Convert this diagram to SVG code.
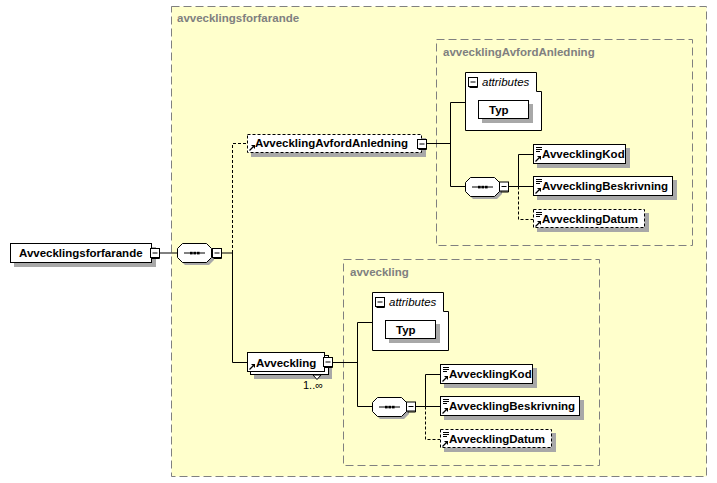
<svg xmlns="http://www.w3.org/2000/svg" xmlns:xlink="http://www.w3.org/1999/xlink" width="717" height="483" viewBox="0 0 717 483">
<defs>
<style>
.box{fill:#fff;stroke:#000;stroke-width:1}
.opt{stroke-dasharray:3,2}
.sh{fill:#a8a8a8}
.lbl{font-family:"Liberation Sans",Arial,sans-serif;font-size:11.5px;font-weight:bold;fill:#000}
.reg{font-family:"Liberation Sans",Arial,sans-serif;font-size:11px;fill:#000}
.it{font-family:"Liberation Sans",Arial,sans-serif;font-size:11.5px;font-style:italic;fill:#000}
.grp{fill:#ffffcc;stroke:#808080;stroke-width:1;stroke-dasharray:8,4}
.glbl{font-family:"Liberation Sans",Arial,sans-serif;font-size:11.5px;font-weight:bold;fill:#808080}
.ln{fill:none;stroke:#000;stroke-width:1}
.dln{fill:none;stroke:#000;stroke-width:1;stroke-dasharray:3,2}
</style>
<g id="minus">
<rect x="0.5" y="0.5" width="9" height="9" fill="#fff" stroke="#000"/>
<path d="M9.5 1.5V10.5H1.5" fill="none" stroke="#000"/>
<path d="M2.5 5H7.5" stroke="#000"/>
</g>
<g id="seq">
<polygon points="8,3 32,3 37,8 37,17 32,22 8,22 3,17 3,8" fill="#a8a8a8"/>
<polygon points="5.5,0.5 29.5,0.5 34.5,5.5 34.5,14.5 29.5,19.5 5.5,19.5 0.5,14.5 0.5,5.5" fill="#fff" stroke="#000"/>
<path d="M7 10H28" stroke="#000"/>
<rect x="13" y="8.8" width="2.6" height="2.6" fill="#000"/>
<rect x="16.5" y="8.8" width="2.6" height="2.6" fill="#000"/>
<rect x="20" y="8.8" width="2.6" height="2.6" fill="#000"/>
</g>
<g id="ico-lines">
<path d="M0 0.5H6M0 2.5H6M0 4.5H4" stroke="#000" stroke-width="1"/>
</g>
<g id="ico-ref">
<path d="M0.5 5.5L4 2" stroke="#000" stroke-width="1.3"/>
<polygon points="2,0 6,0 6,4" fill="#000"/>
</g>
</defs>

<!-- group backgrounds -->
<g id="grp-avvecklingsforfarande">
<rect class="grp" x="171.5" y="6.5" width="535" height="470"/>
<text class="glbl" x="177" y="22">avvecklingsforfarande</text>
</g>
<g id="grp-avvecklingAvfordAnledning">
<rect class="grp" x="436.5" y="39.5" width="256" height="206"/>
<text class="glbl" x="443" y="56">avvecklingAvfordAnledning</text>
</g>
<g id="grp-avveckling">
<rect class="grp" x="343.5" y="259.5" width="256" height="206"/>
<text class="glbl" x="350" y="276">avveckling</text>
</g>

<!-- connectors -->
<g id="connectors">
<path class="ln" d="M160 253H177"/>
<path class="ln" d="M222 253H232.5"/>
<path class="dln" d="M232.5 253V143.5H247"/>
<path class="ln" d="M232.5 253V362.5H247"/>
<path class="ln" d="M427 143.5H450.5"/>
<path class="ln" d="M333 362.5H357.5"/>
<g id="conn-avveckling">
<path class="ln" d="M372 322.5H357.5V406.5H372"/>
<path class="ln" d="M416 406.5H425.5"/>
<path class="ln" d="M440 374.5H425.5V406.5H440"/>
<path class="dln" d="M425.5 406.5V439.5H440"/>
</g>
<g id="conn-anledning" transform="translate(93,-220)">
<path class="ln" d="M372 322.5H357.5V406.5H372"/>
<path class="ln" d="M416 406.5H425.5"/>
<path class="ln" d="M440 374.5H425.5V406.5H440"/>
<path class="dln" d="M425.5 406.5V439.5H440"/>
</g>
</g>

<!-- root -->
<g id="node-Avvecklingsforfarande">
<rect class="sh" x="14" y="247" width="142" height="20"/>
<rect class="box" x="10.5" y="243.5" width="141" height="19"/>
<text class="lbl" x="19" y="257">Avvecklingsforfarande</text>
<use xlink:href="#minus" x="150" y="248"/>
</g>
<g id="node-seq-root">
<use xlink:href="#seq" x="177" y="243"/>
<use xlink:href="#minus" x="212" y="248"/>
</g>

<!-- AvvecklingAvfordAnledning -->
<g id="node-AvvecklingAvfordAnledning">
<rect class="sh" x="251" y="138" width="175" height="19"/>
<rect class="box opt" x="247.5" y="134.5" width="174" height="18"/>
<text class="lbl" x="255" y="147">AvvecklingAvfordAnledning</text>
<use xlink:href="#ico-ref" x="249" y="145"/>
<use xlink:href="#minus" x="417" y="139"/>
</g>

<!-- Avveckling -->
<g id="node-Avveckling">
<rect class="sh" x="254" y="359" width="78" height="20"/>
<rect class="box" x="250.5" y="355.5" width="78" height="19"/>
<rect class="box" x="247.5" y="352.5" width="77" height="19"/>
<polygon points="313,375 317,379.5 321,375" fill="#fff" stroke="#000"/>
<text class="lbl" x="256" y="367">Avveckling</text>
<use xlink:href="#ico-ref" x="249" y="364"/>
<use xlink:href="#minus" x="323" y="357"/>
<text class="reg" x="303" y="389">1..∞</text>
</g>

<!-- bottom type content -->
<g id="avveckling-content">
<g id="attr-avveckling">
<polygon class="box" points="372.5,292.5 443.5,292.5 443.5,311.5 448.5,311.5 448.5,350.5 372.5,350.5"/>
<use xlink:href="#minus" x="375" y="297"/>
<text class="it" x="389" y="306">attributes</text>
</g>
<g id="attr-avveckling-Typ">
<rect class="sh" x="389" y="324" width="51" height="19"/>
<rect class="box" x="385.5" y="320.5" width="50" height="18"/>
<text class="lbl" x="396" y="334">Typ</text>
</g>
<g id="seq-avveckling">
<use xlink:href="#seq" x="372" y="397"/>
<use xlink:href="#minus" x="406" y="401.5"/>
</g>
<g id="avveckling-AvvecklingKod">
<rect class="sh" x="444" y="368" width="93" height="20"/>
<rect class="box" x="440.5" y="364.5" width="92" height="19"/>
<use xlink:href="#ico-lines" x="443" y="367"/>
<use xlink:href="#ico-ref" x="442" y="376"/>
<text class="lbl" x="449" y="378">AvvecklingKod</text>
</g>
<g id="avveckling-AvvecklingBeskrivning">
<rect class="sh" x="444" y="400" width="140" height="20"/>
<rect class="box" x="440.5" y="396.5" width="139" height="19"/>
<use xlink:href="#ico-lines" x="443" y="399"/>
<use xlink:href="#ico-ref" x="442" y="408"/>
<text class="lbl" x="449" y="410">AvvecklingBeskrivning</text>
</g>
<g id="avveckling-AvvecklingDatum">
<rect class="sh" x="444" y="433" width="112" height="19"/>
<rect class="box opt" x="440.5" y="429.5" width="111" height="18"/>
<use xlink:href="#ico-lines" x="443" y="432"/>
<use xlink:href="#ico-ref" x="442" y="441"/>
<text class="lbl" x="449" y="443">AvvecklingDatum</text>
</g>
</g>

<!-- top type content -->
<g id="anledning-content" transform="translate(93,-220)">
<g id="attr-anledning">
<polygon class="box" points="372.5,292.5 443.5,292.5 443.5,311.5 448.5,311.5 448.5,350.5 372.5,350.5"/>
<use xlink:href="#minus" x="375" y="297"/>
<text class="it" x="389" y="306">attributes</text>
</g>
<g id="attr-anledning-Typ">
<rect class="sh" x="389" y="324" width="51" height="19"/>
<rect class="box" x="385.5" y="320.5" width="50" height="18"/>
<text class="lbl" x="396" y="334">Typ</text>
</g>
<g id="seq-anledning">
<use xlink:href="#seq" x="372" y="397"/>
<use xlink:href="#minus" x="406" y="401.5"/>
</g>
<g id="anledning-AvvecklingKod">
<rect class="sh" x="444" y="368" width="93" height="20"/>
<rect class="box" x="440.5" y="364.5" width="92" height="19"/>
<use xlink:href="#ico-lines" x="443" y="367"/>
<use xlink:href="#ico-ref" x="442" y="376"/>
<text class="lbl" x="449" y="378">AvvecklingKod</text>
</g>
<g id="anledning-AvvecklingBeskrivning">
<rect class="sh" x="444" y="400" width="140" height="20"/>
<rect class="box" x="440.5" y="396.5" width="139" height="19"/>
<use xlink:href="#ico-lines" x="443" y="399"/>
<use xlink:href="#ico-ref" x="442" y="408"/>
<text class="lbl" x="449" y="410">AvvecklingBeskrivning</text>
</g>
<g id="anledning-AvvecklingDatum">
<rect class="sh" x="444" y="433" width="112" height="19"/>
<rect class="box opt" x="440.5" y="429.5" width="111" height="18"/>
<use xlink:href="#ico-lines" x="443" y="432"/>
<use xlink:href="#ico-ref" x="442" y="441"/>
<text class="lbl" x="449" y="443">AvvecklingDatum</text>
</g>
</g>
</svg>
